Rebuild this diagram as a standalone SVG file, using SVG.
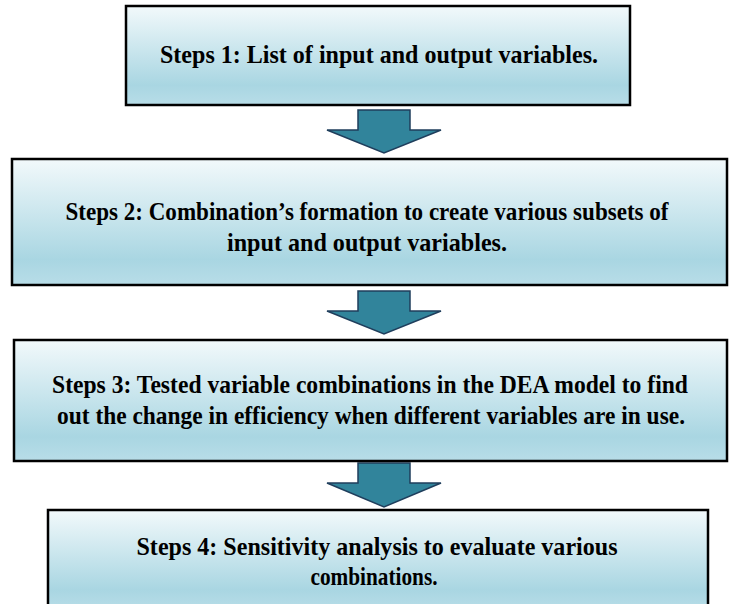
<svg xmlns="http://www.w3.org/2000/svg" width="729" height="604" viewBox="0 0 729 604">
<defs>
<linearGradient id="g" x1="0" y1="0" x2="0" y2="1">
<stop offset="0" stop-color="#f2f9fb"/>
<stop offset="0.8" stop-color="#a9d6e2"/>
<stop offset="1" stop-color="#b8dde8"/>
</linearGradient>
</defs>
<style>
.box{fill:url(#g);stroke:#000;stroke-width:2.5}
.arr{fill:#31849b;stroke:#1f3e5c;stroke-width:1.5;stroke-linejoin:miter}
.t{font-family:'Liberation Serif',serif;font-weight:700;font-size:24.5px;fill:#000;text-anchor:middle}
</style>
<g id="connectors">
<polygon class="arr" points="358,110 410,110 410,130 441,130 384,153 327,130 358,130"/>
<polygon class="arr" points="358,291 410,291 410,311 441,311 384,334 327,311 358,311"/>
<polygon class="arr" points="358,463 410,463 410,483 441,483 384,507 327,483 358,483"/>
</g>
<g id="step1">
<rect class="box" x="126" y="6" width="504" height="99"/>
<text class="t" x="379" y="63" textLength="438" lengthAdjust="spacingAndGlyphs">Steps 1: List of input and output variables.</text>
</g>
<g id="step2">
<rect class="box" x="12" y="159" width="715" height="126"/>
<text class="t" x="367" y="220" textLength="603" lengthAdjust="spacingAndGlyphs">Steps 2: Combination’s formation to create various subsets of</text>
<text class="t" x="367" y="251" textLength="280" lengthAdjust="spacingAndGlyphs">input and output variables.</text>
</g>
<g id="step3">
<rect class="box" x="14" y="340" width="713" height="121"/>
<text class="t" x="370" y="393" textLength="636" lengthAdjust="spacingAndGlyphs">Steps 3: Tested variable combinations in the DEA model to find</text>
<text class="t" x="371" y="424" textLength="628" lengthAdjust="spacingAndGlyphs">out the change in efficiency when different variables are in use.</text>
</g>
<g id="step4">
<rect class="box" x="48" y="510" width="660" height="100"/>
<text class="t" x="377" y="555" textLength="481" lengthAdjust="spacingAndGlyphs">Steps 4: Sensitivity analysis to evaluate various</text>
<text class="t" x="374" y="585" textLength="127" lengthAdjust="spacingAndGlyphs">combinations.</text>
</g>
</svg>
